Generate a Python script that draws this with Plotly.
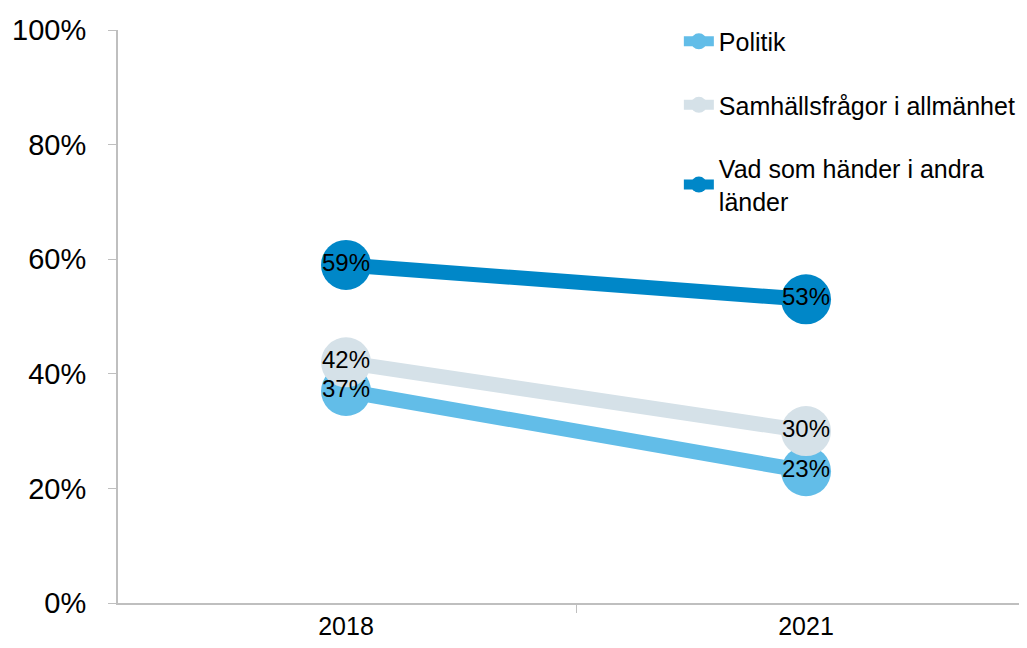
import plotly.graph_objects as go

years = ["2018", "2021"]
politik = [37, 23]
samhalle = [42, 30]
andra = [59, 53]
series_names = ["Politik", "Samhällsfrågor i allmänhet", "Vad som händer i andra<br>länder"]
colors = ["#62BDE8", "#D5E1E8", "#0087C8"]
y_ticks = [0, 20, 40, 60, 80, 100]
y_tick_labels = ["0%", "20%", "40%", "60%", "80%", "100%"]

fig = go.Figure()
for i, (name, vals, col) in enumerate(zip(series_names, [politik, samhalle, andra], colors)):
    fig.add_trace(go.Scatter(
        x=years, y=vals, name=name, mode="lines+markers",
        line=dict(color=col, width=15),
        marker=dict(color=col, size=50, line=dict(width=0)),
        legendgroup=f"g{i}",
    ))
for vals in [politik, samhalle, andra]:
    fig.add_trace(go.Scatter(
        x=years, y=vals, mode="text", text=[f"{v}%" for v in vals],
        textposition="middle center",
        textfont=dict(size=24, color="#000000", family="Liberation Sans, Arial, sans-serif"),
        showlegend=False, hoverinfo="skip",
    ))

fig.update_layout(
    width=1019, height=640,
    margin=dict(l=110, r=0, t=22, b=45),
    paper_bgcolor="white", plot_bgcolor="white",
    font=dict(family="Liberation Sans, Arial, sans-serif", color="#000000"),
    legend=dict(
        x=0.617, y=1.02, xanchor="left", yanchor="top",
        font=dict(size=25), traceorder="grouped", tracegroupgap=28,
        bgcolor="rgba(0,0,0,0)",
    ),
    xaxis=dict(
        type="category", range=[-0.4957, 1.4804], tickson="boundaries",
        ticks="outside", ticklen=8, tickcolor="#BFBFBF",
        showline=True, linecolor="#BFBFBF", linewidth=2,
        showgrid=False, zeroline=False, automargin=False,
        tickfont=dict(size=25, family="Liberation Sans Narrow, Liberation Sans, Arial, sans-serif"),
    ),
    yaxis=dict(
        range=[0, 100], tickvals=y_ticks, ticktext=y_tick_labels,
        ticks="outside", ticklen=8, tickcolor="#BFBFBF",
        showline=True, linecolor="#BFBFBF", linewidth=2,
        showgrid=False, zeroline=False, automargin=False,
        ticklabelstandoff=16,
        tickfont=dict(size=29),
    ),
)
fig.write_html("out.html")
